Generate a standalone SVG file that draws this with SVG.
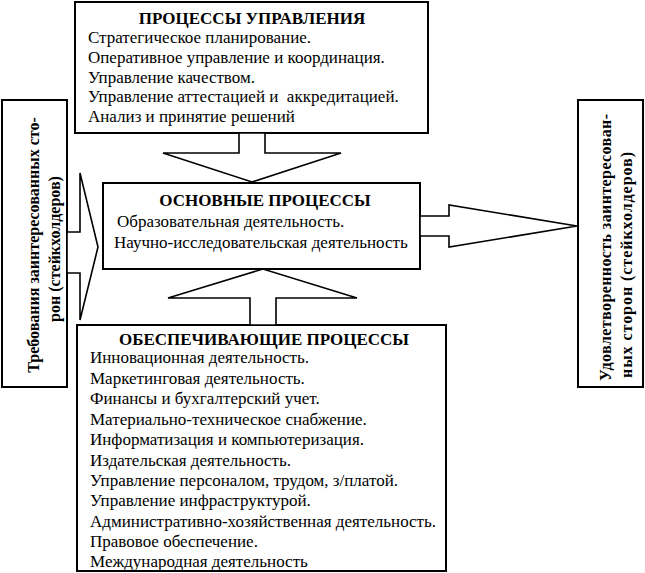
<svg xmlns="http://www.w3.org/2000/svg" width="645" height="573" viewBox="0 0 645 573">
<style>
.box{fill:#fff;stroke:#000;stroke-width:2}
.arr{fill:#fff;stroke:#000;stroke-width:1.6;stroke-linejoin:miter}
text{font-family:"Liberation Serif","Times New Roman",serif;fill:#000}
.t{font-size:17px;font-weight:bold;text-anchor:middle}
.b{font-size:17px}
.v{font-size:16px;font-weight:bold}
</style>
<rect width="645" height="573" fill="#fff"/>
<g id="node-top">
<rect class="box" x="75" y="2" width="353" height="131"/>
<text class="t" x="252" y="24">ПРОЦЕССЫ УПРАВЛЕНИЯ</text>
<text class="b" x="88" y="43">Стратегическое планирование.</text>
<text class="b" x="88" y="63">Оперативное управление и координация.</text>
<text class="b" x="88" y="83">Управление качеством.</text>
<text class="b" x="88" y="102" xml:space="preserve">Управление аттестацией и  аккредитацией.</text>
<text class="b" x="88" y="122">Анализ и принятие решений</text>
</g>
<g id="node-main">
<rect class="box" x="103" y="183" width="317" height="86"/>
<text class="t" x="265" y="206">ОСНОВНЫЕ ПРОЦЕССЫ</text>
<text class="b" x="117" y="227">Образовательная деятельность.</text>
<text class="b" x="114" y="248">Научно-исследовательская деятельность</text>
</g>
<g id="node-bottom">
<rect class="box" x="77" y="325" width="369" height="246"/>
<text class="t" x="264" y="345">ОБЕСПЕЧИВАЮЩИЕ ПРОЦЕССЫ</text>
<text class="b" x="90" y="363">Инновационная деятельность.</text>
<text class="b" x="90" y="384">Маркетинговая деятельность.</text>
<text class="b" x="90" y="404">Финансы и бухгалтерский учет.</text>
<text class="b" x="90" y="425">Материально-техническое снабжение.</text>
<text class="b" x="90" y="445">Информатизация и компьютеризация.</text>
<text class="b" x="90" y="466">Издательская деятельность.</text>
<text class="b" x="90" y="486">Управление персоналом, трудом, з/платой.</text>
<text class="b" x="90" y="506">Управление инфраструктурой.</text>
<text class="b" x="90" y="527">Административно-хозяйственная деятельность.</text>
<text class="b" x="90" y="547">Правовое обеспечение.</text>
<text class="b" x="90" y="567">Международная деятельность</text>
</g>
<g id="node-left">
<rect class="box" x="2" y="100" width="65" height="287"/>
<text class="v" text-anchor="middle" transform="translate(39,245) rotate(-90)">Требования заинтересованных сто-</text>
<text class="v" text-anchor="middle" transform="translate(60,249) rotate(-90)">рон (стейкхолдеров)</text>
</g>
<g id="node-right">
<rect class="box" x="578" y="100" width="65" height="287"/>
<text class="v" transform="translate(611,381) rotate(-90)" textLength="267">Удовлетворенность заинтересован-</text>
<text class="v" transform="translate(632,378) rotate(-90)" textLength="226">ных сторон (стейкхолдеров)</text>
</g>
<g id="connectors">
<polygon class="arr" points="239,133 239,153 163,153 252,182 341,153 265,153 265,133"/>
<polygon class="arr" points="250,325 250,298 168,298 263,269 357,298 276,298 276,325"/>
<polygon class="arr" points="420,216 449,216 449,205 577,226 449,247 449,236 420,236"/>
<polygon class="arr" points="67,232 80,232 80,173 98,247 80,320 80,273 67,273"/>
</g>
</svg>
